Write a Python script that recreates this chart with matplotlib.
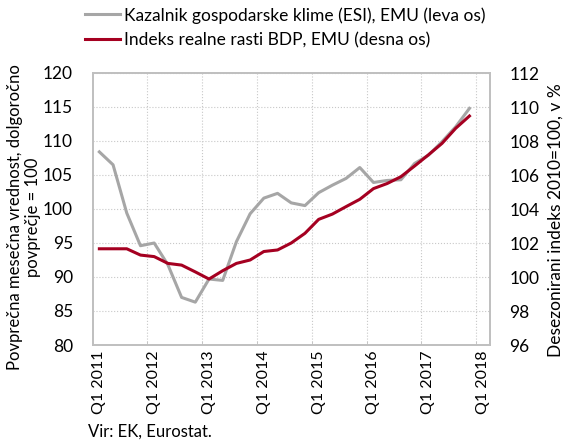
import matplotlib.pyplot as plt
import numpy as np

# Quarterly data Q1 2011 .. Q4 2017
esi = [108.4, 106.5, 99.4, 94.6, 95.0, 91.8, 87.0, 86.3, 89.7, 89.5, 95.2, 99.3, 101.6, 102.3,
       100.9, 100.5, 102.4, 103.5, 104.5, 106.1, 103.9, 104.2, 104.3, 106.7, 107.9, 109.9,
       112.1, 114.8]
gdp = [101.66, 101.66, 101.66, 101.29, 101.2, 100.8, 100.7, 100.3, 99.88, 100.37, 100.8,
       101.0, 101.5, 101.59, 102.0, 102.57, 103.39, 103.7, 104.14, 104.57, 105.2, 105.5,
       105.9, 106.53, 107.18, 107.86, 108.75, 109.47]
tick_labels = ['Q1 2011', 'Q1 2012', 'Q1 2013', 'Q1 2014', 'Q1 2015', 'Q1 2016',
               'Q1 2017', 'Q1 2018']

plt.rcParams['font.family'] = ['Lato', 'DejaVu Sans']
plt.rcParams['font.size'] = 12

fig = plt.figure(figsize=(5.63, 4.44), dpi=100)
ax = fig.add_axes([92.5 / 563, 1 - 345 / 444, 397.5 / 563, 272 / 444])
ax2 = ax.twinx()

x = np.arange(len(esi))
l1, = ax.plot(x, esi, color='#A6A6A6', lw=2.2, label='Kazalnik gospodarske klime (ESI), EMU (leva os)')
l2, = ax2.plot(x, gdp, color='#A50021', lw=2.2, label='Indeks realne rasti BDP, EMU (desna os)')
ax.set_zorder(ax2.get_zorder() - 1)
ax2.patch.set_visible(False)

ax.set_xlim(-0.5, 28.5)
ax.set_ylim(80, 120)
ax2.set_ylim(96, 112)
ax.set_yticks(np.arange(80, 121, 5))
ax2.set_yticks(np.arange(96, 113, 2))
ax.set_xticks(np.arange(0, 29, 4))
ax.set_xticklabels(tick_labels, rotation=90, fontsize=11.5)
ax.set_xticks(np.arange(3.5, 28, 4), minor=True)

ax.grid(False)
ax.grid(True, which='minor', axis='x', color='#C8C8C8', linestyle=':', lw=0.8)
ax.grid(True, which='major', axis='y', color='#C8C8C8', linestyle=':', lw=0.8)

for a in (ax, ax2):
    for s in a.spines.values():
        s.set_color('#BFBFBF')
        s.set_linewidth(1.2)
ax.tick_params(axis='x', which='major', length=0, pad=4)
ax.tick_params(axis='x', which='minor', length=3, direction='in', color='#BFBFBF')
ax.tick_params(axis='y', length=0, pad=14, labelsize=12.5)
ax2.tick_params(axis='y', length=0, pad=14, labelsize=12.5)

ax.set_ylabel('Povprečna mesečna vrednost, dolgoročno\npovprečje = 100', fontsize=12,
              linespacing=1.15)
ax.yaxis.set_label_coords(-0.13, 0.47)
ax2.set_ylabel('Desezonirani indeks 2010=100, v %', fontsize=12.5)
ax2.yaxis.set_label_coords(1.145, 0.46)

fig.legend(handles=[l1, l2], loc='upper left', bbox_to_anchor=(85 / 563, 1 - 7 / 444),
           frameon=False, fontsize=12.5, handlelength=2.0, handletextpad=0.25,
           labelspacing=0.5, borderpad=0, borderaxespad=0)

fig.text(88 / 563, 1 - 432 / 444, 'Vir: EK, Eurostat.', fontsize=12, va='center')

fig.savefig('out.png', dpi=100)
